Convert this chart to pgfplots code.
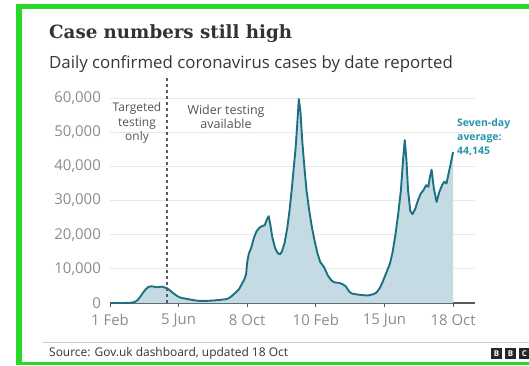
\documentclass[border=0pt]{standalone}
\usepackage{fontspec}
\setmainfont{Open Sans}
\newfontfamily\titlefont{DejaVu Serif}
\usepackage{pgfplots}
\usepackage{pgfplotstable}
\pgfplotsset{compat=1.18}

\definecolor{framegreen}{RGB}{40,215,40}
\definecolor{casefill}{RGB}{196,219,228}
\definecolor{caseline}{RGB}{28,112,130}
\definecolor{annoteal}{RGB}{38,150,170}
\definecolor{ticktext}{RGB}{140,140,140}
\definecolor{gridgrey}{RGB}{232,232,232}
\definecolor{axisgrey}{RGB}{90,90,90}
\definecolor{notegrey}{RGB}{85,85,85}

% Seven-day average of daily confirmed cases; day 0 = 1 Feb 2020
\pgfplotstableread{
day value
0 0
20 5
30 20
40 100
45 300
50 800
55 1800
60 3000
65 4000
70 4700
75 4900
80 4800
85 4600
90 4700
95 4800
100 4500
104 4300
110 3600
115 2900
120 2300
125 1800
130 1500
140 1200
150 900
160 650
170 600
180 650
190 750
200 900
210 1100
215 1300
220 1800
225 2500
230 3200
235 4000
240 5500
245 7000
248 8500
250 12000
253 14500
257 16000
262 19000
267 21000
272 22000
277 22500
282 22800
286 24500
289 25400
292 23000
296 19000
301 16000
306 14500
310 14300
313 15000
318 17500
323 22000
327 27000
331 33000
335 40000
338 45000
341 52000
344 59700
347 56000
350 48000
354 40000
358 33000
363 27000
368 22000
373 18000
378 14500
383 12000
390 10500
397 8000
404 6500
410 6000
417 5900
424 5500
430 4800
435 3500
440 2800
450 2500
460 2300
470 2200
480 2600
485 3000
490 4000
495 5500
500 7500
505 9500
510 11500
515 15000
520 20000
525 26000
530 33000
534 42000
537 47700
540 42000
543 33000
547 27000
551 26000
556 27500
561 30000
566 32000
571 33000
576 34500
580 34000
583 37000
586 39000
590 33500
595 29600
600 32500
605 34500
609 35500
613 35000
617 38000
621 41000
625 44145
}\casedata

\begin{document}
\begin{tikzpicture}[x=1bp,y=1bp]
\useasboundingbox (0,0) rectangle (529,365);
\fill[white] (0,0) rectangle (529,365);
% screenshot frame
\draw[framegreen, line width=6bp] (19,0) -- (19,358.3);
\draw[framegreen, line width=5bp] (16,358.3) -- (540,358.3);
\draw[framegreen, line width=3bp] (16,1.5) -- (540,1.5);

% headings
\node[anchor=base west, inner sep=0pt, text=black!80] at (49,327)
  {\titlefont\bfseries\fontsize{18.3}{20}\selectfont Case numbers still high};
\node[anchor=base west, inner sep=0pt, text=black!78] at (49,297)
  {\fontsize{16.9}{18}\selectfont Daily confirmed coronavirus cases by date reported};

\begin{axis}[
  at={(110bp,62bp)}, anchor=south west,
  scale only axis, width=365bp, height=205bp,
  xmin=0, xmax=665, ymin=0, ymax=60000,
  clip=false,
  axis x line*=bottom, axis y line*=left,
  y axis line style={draw=none},
  x axis line style={draw=axisgrey, line width=1.2bp, -},
  xtick={0,125,250,375,500,625},
  xticklabels={1 Feb,5 Jun,8 Oct,10 Feb,15 Jun,18 Oct},
  ytick={0,10000,20000,30000,40000,50000,60000},
  scaled y ticks=false,
  /pgf/number format/fixed,
  /pgf/number format/1000 sep={,},
  /pgf/number format/assume math mode=true,
  tick align=outside,
  major tick length=4bp,
  xtick style={draw=axisgrey, line width=0.8bp},
  ytick style={draw=none},
  ymajorgrids, grid style={draw=gridgrey, line width=0.8bp},
  tick label style={text=ticktext, font=\fontsize{15}{16}\selectfont},
  xticklabel style={inner sep=0pt, anchor=north, yshift=-7bp},
  yticklabel style={inner sep=0pt, anchor=east, xshift=-5bp},
]
\addplot[draw=none, fill=casefill] table[x=day, y=value] {\casedata} \closedcycle;
\addplot[caseline, line width=1.9bp, line join=round] table[x=day, y=value] {\casedata};
% testing regime boundary
\draw[axisgrey, line width=1.2bp, dash pattern=on 3bp off 3bp] (axis cs:104,0) -- (axis cs:104,66700);
\end{axis}

% annotations
\node[align=center, inner sep=0pt, text=notegrey, font=\fontsize{12}{14.5}\selectfont] at (137,242)
  {Targeted\\testing\\only};
\node[align=center, inner sep=0pt, text=notegrey, font=\fontsize{12.5}{14}\selectfont] at (226,248.5)
  {Wider testing\\available};
\node[align=left, anchor=west, inner sep=0pt, text=annoteal, font=\bfseries\fontsize{10.5}{14}\selectfont] at (457,228)
  {Seven-day\\average:\\44,145};

% footer
\draw[black!22, line width=1bp] (43,22.5) -- (529,22.5);
\node[anchor=base west, inner sep=0pt, text=black!80] at (49,8.5)
  {\fontsize{12}{13}\selectfont Source: Gov.uk dashboard, updated 18 Oct};
\foreach \x/\l in {491/B,505/B,519/C}{
  \fill[black!85] (\x,6) rectangle ++(11,11);
  \node[text=white, font=\bfseries\fontsize{8}{8}\selectfont, inner sep=0pt] at (\x+5.5,11.5) {\l};
}
\end{tikzpicture}
\end{document}
